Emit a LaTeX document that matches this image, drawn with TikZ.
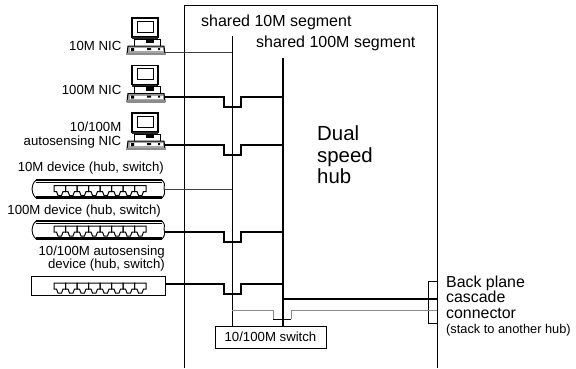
\documentclass[tikz,border=0pt]{standalone}
\usepackage{fontspec}
\setmainfont{Liberation Sans}
\tikzset{
  lbl/.style={inner sep=0pt,font=\fontsize{13.2}{14}\selectfont,align=right,anchor=east},
  lbll/.style={inner sep=0pt,font=\fontsize{16}{18}\selectfont,anchor=west,align=left},
  thinw/.style={line width=0.7pt,black!75},
  thickw/.style={line width=2.5pt,black},
  seg/.style={line width=0.9pt,black},
  box/.style={draw,line width=0.8pt,fill=white,inner sep=0pt},
  pcicon/.pic={
    \draw[line width=1.1pt,fill=white] (-11,-19) rectangle (15,0);
    \draw[line width=0.8pt] (-6,-16) rectangle (10,-5);
    \fill[black!85] (-11,0) rectangle (15,2);
    \draw[line width=1pt,fill=white] (-9,2) rectangle (17,9);
    \fill[black] (3,2) rectangle (11,6);
    \draw[line width=1pt,fill=black!35] (-15,9) -- (21,9) -- (22,17) -- (-16,17) -- cycle;
    \fill[white] (-13,11) rectangle (20,14);
    \fill[black] (-12,11) rectangle (-9,14) (4,11) rectangle (8,13) (15,11) rectangle (17,13);
    \fill[black!45] (-16,15.5) rectangle (22,18);
  },
  ports/.pic={
    \foreach \i in {0,...,7}{
      \draw[line width=1pt] (\i*11.5,-5) -- ++(11.5,0) -- ++(0,6) -- ++(-2.5,0) -- ++(-1.5,4) -- ++(-3.5,0) -- ++(-1.5,-4) -- ++(-2.5,0) -- cycle;
    }
  },
  devpill/.pic={
    \draw[line width=1.1pt] (-63,-9) -- (63,-9) (-63,9) -- (63,9);
    \draw[line width=0.8pt] (-63,-7) -- (63,-7) (-63,7) -- (63,7);
    \draw[line width=0.9pt] (-63,-9) .. controls (-66,-6) and (-67,-3) .. (-67,0) .. controls (-67,3) and (-66,6) .. (-63,9);
    \draw[line width=0.9pt] (63,-9) .. controls (66,-6) and (66,-3) .. (65,-1) .. controls (66,3) and (66,6) .. (63,9);
  }
}
\begin{document}
\begin{tikzpicture}[x=1pt,y=-1pt]
\useasboundingbox (0,0) rectangle (576,368);
% hub outline
\coordinate (hbl) at (184,368);
\coordinate (hbr) at (437,368);
\draw[line width=0.9pt] (hbl) -- (184,5.5) -- (437,5.5) -- (hbr);
% texts in hub
\node[lbll] (t10) at (201,22) {shared 10M segment};
\node[lbll] (t100) at (256,43) {shared 100M segment};
\node[inner sep=0pt,anchor=north west,align=left,font=\fontsize{20.4}{21.5}\selectfont] (dual) at (317,126) {Dual\\speed\\hub};
% switch
\node[box,minimum width=111pt,minimum height=22pt,font=\fontsize{13.2}{14}\selectfont] (sw) at (270.5,337) {10/100M switch};
% segments
\coordinate (s10top) at (232,36);
\coordinate (s100top) at (283,58);
\coordinate (s10b) at (232,326);
\coordinate (s100b) at (283,326);
\draw[seg] (s10top) -- (s10b);
\draw[thickw] (s100top) -- (s100b);
% pcs
\pic at (143,37) {pcicon};
\pic at (143,84.5) {pcicon};
\pic at (143,132) {pcicon};
\coordinate (pc1) at (165,52);
\coordinate (pc2) at (165,97);
\coordinate (pc3) at (165,145);
% devices
\pic at (99,189) {devpill};
\pic at (99,230) {devpill};
\node[box,line width=1pt,minimum width=134pt,minimum height=18.5pt] (d3) at (98,286) {};
\pic at (54,190.5) {ports};
\pic at (54,231) {ports};
\pic at (54,288) {ports};
\coordinate (d1) at (165,189);
\coordinate (d2) at (165,232);
% links
\coordinate (j1) at (232,52);
\coordinate (j4) at (232,189);
\draw[thinw] (pc1) -- (j1);
\draw[thinw] (d1) -- (j4);
\newcommand{\jogline}[3]{\draw[thickw,line join=miter] (#1) -- (224,#3) -- (224,#3+10) -- (241,#3+10) -- (241,#3) -- (#2);}
\coordinate (k2) at (283,97);
\coordinate (k3) at (283,145);
\coordinate (k5) at (283,232);
\coordinate (k6) at (283,284);
\jogline{pc2}{k2}{97}
\jogline{pc3}{k3}{145}
\jogline{d2}{k5}{232}
\jogline{d3.east |- k6}{k6}{284}
% back plane
\node[draw,line width=0.8pt,minimum width=9pt,minimum height=42pt,inner sep=0pt] (conn) at (432.5,302) {};
\coordinate (bp1) at (283,299);
\coordinate (bp2) at (437,299);
\coordinate (g1) at (232,310);
\coordinate (g2) at (437,310);
\draw[thickw] (bp1) -- (bp2);
\draw[line width=1pt,black!45] (g1) -- (273,310) -- (273,319);
\draw[line width=1pt,black!45] (291,319) -- (291,310) -- (g2);
\draw[line width=0.8pt] (273,319) -- (291,319);
% left labels
\node[lbl] (a1) at (121.5,45.5) {10M NIC};
\node[lbl] (a2) at (121.5,90) {100M NIC};
\node[lbl] (a3) at (121.5,135) {10/100M\\autosensing NIC};
\node[lbl] (a4) at (164,168.5) {10M device (hub, switch)};
\node[lbl] (a5) at (161,211) {100M device (hub, switch)};
\node[lbl,font=\fontsize{13.2}{13}\selectfont] (a6) at (165,258.5) {10/100M autosensing\\device (hub, switch)};
% right labels
\node[lbll,font=\fontsize{15.9}{15.5}\selectfont] (b1) at (446,297) {Back plane\\cascade\\connector};
\node[lbll,font=\fontsize{12.8}{14}\selectfont] (b2) at (446,330) {(stack to another hub)};
\end{tikzpicture}
\end{document}
